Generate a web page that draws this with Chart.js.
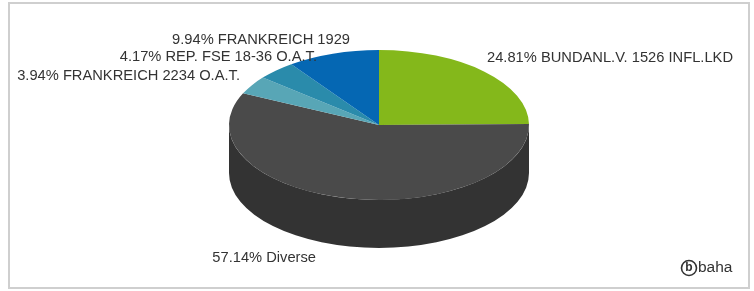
<!DOCTYPE html>
<html>
<head>
<meta charset="utf-8">
<script src="https://cdn.jsdelivr.net/npm/chart.js@4.4.0/dist/chart.umd.min.js"></script>
<style>
body { margin: 0; background: #fff; }
#wrap { position: relative; width: 754px; height: 291px; }
#frame { position: absolute; left: 8px; top: 2px; width: 738px; height: 283px; border: 2px solid #cfcfcf; }
canvas { position: absolute; left: 0; top: 0; }
</style>
</head>
<body>
<div id="wrap">
    <div id="frame"></div>
    <canvas id="holdings" width="754" height="291"></canvas>
</div>
<script>
var names = ["BUNDANL.V. 1526 INFL.LKD", "Diverse", "FRANKREICH 2234 O.A.T.", "REP. FSE 18-36 O.A.T.", "FRANKREICH 1929"];
var shares = [24.81, 57.14, 3.94, 4.17, 9.94];
var topColors = ["#84b81b", "#4a4a4a", "#58a6b6", "#2a8bab", "#0567b3"];
var sideColors = ["#5e8a10", "#333333", "#3f8492", "#1d6a84", "#034d87"];

// where the slice labels sit (left-side ones are right aligned)
var labelSpots = [
    { x: 487, y: 58, align: "left" },
    { x: 316, y: 258, align: "right" },
    { x: 240, y: 76, align: "right" },
    { x: 317, y: 57, align: "right" },
    { x: 350, y: 40, align: "right" }
];

var flat = 0.5;
var depth = 48;

var pie3d = {
    id: "pie3d",
    beforeDatasetsDraw: function(chart) {
        var ctx = chart.ctx;
        var arcs = chart.getDatasetMeta(0).data;
        var cx = arcs[0].x, cy = arcs[0].y, r = arcs[0].outerRadius, ry = r * flat;
        ctx.save();
        // front wall, only angles 0..PI face the viewer
        arcs.forEach(function(arc, i) {
            var a0 = Math.max(arc.startAngle, 0);
            var a1 = Math.min(arc.endAngle, Math.PI);
            if (a1 <= a0) return;
            ctx.beginPath();
            ctx.ellipse(cx, cy, r, ry, 0, a0, a1);
            ctx.lineTo(cx + r * Math.cos(a1), cy + depth + ry * Math.sin(a1));
            ctx.ellipse(cx, cy + depth, r, ry, 0, a1, a0, true);
            ctx.closePath();
            ctx.fillStyle = sideColors[i];
            ctx.fill();
        });
        // squash the top face
        ctx.translate(cx, cy);
        ctx.scale(1, flat);
        ctx.translate(-cx, -cy);
    },
    afterDatasetsDraw: function(chart) {
        var ctx = chart.ctx;
        ctx.restore();

        ctx.save();
        ctx.font = "14.7px 'Liberation Sans', Arial, sans-serif";
        ctx.fillStyle = "#333";
        ctx.textBaseline = "middle";
        shares.forEach(function(v, i) {
            var s = labelSpots[i];
            ctx.textAlign = s.align;
            ctx.fillText(v.toFixed(2) + "% " + names[i], s.x, s.y);
        });

        // baha logo
        ctx.beginPath();
        ctx.arc(689, 268, 7.5, 0, Math.PI * 2);
        ctx.lineWidth = 1.6;
        ctx.strokeStyle = "#333";
        ctx.stroke();
        ctx.textAlign = "center";
        ctx.font = "bold 12px 'Liberation Sans', Arial, sans-serif";
        ctx.fillText("b", 689, 268);
        ctx.textAlign = "left";
        ctx.font = "15.5px 'Liberation Sans', Arial, sans-serif";
        ctx.fillText("baha", 698, 268);
        ctx.restore();
    }
};

var holdings = document.getElementById("holdings");
var holdingsChart = new Chart(holdings, {
    type: "pie",
    data: {
        labels: names,
        datasets: [{
            data: shares,
            backgroundColor: topColors,
            borderWidth: 0,
            radius: 150,
            clip: false
        }]
    },
    options: {
        responsive: false,
        animation: false,
        events: [],
        layout: { padding: { left: 4, right: 0, top: 0, bottom: 41 } },
        plugins: {
            legend: { display: false },
            tooltip: { enabled: false }
        }
    },
    plugins: [pie3d]
});
</script>
</body>
</html>
